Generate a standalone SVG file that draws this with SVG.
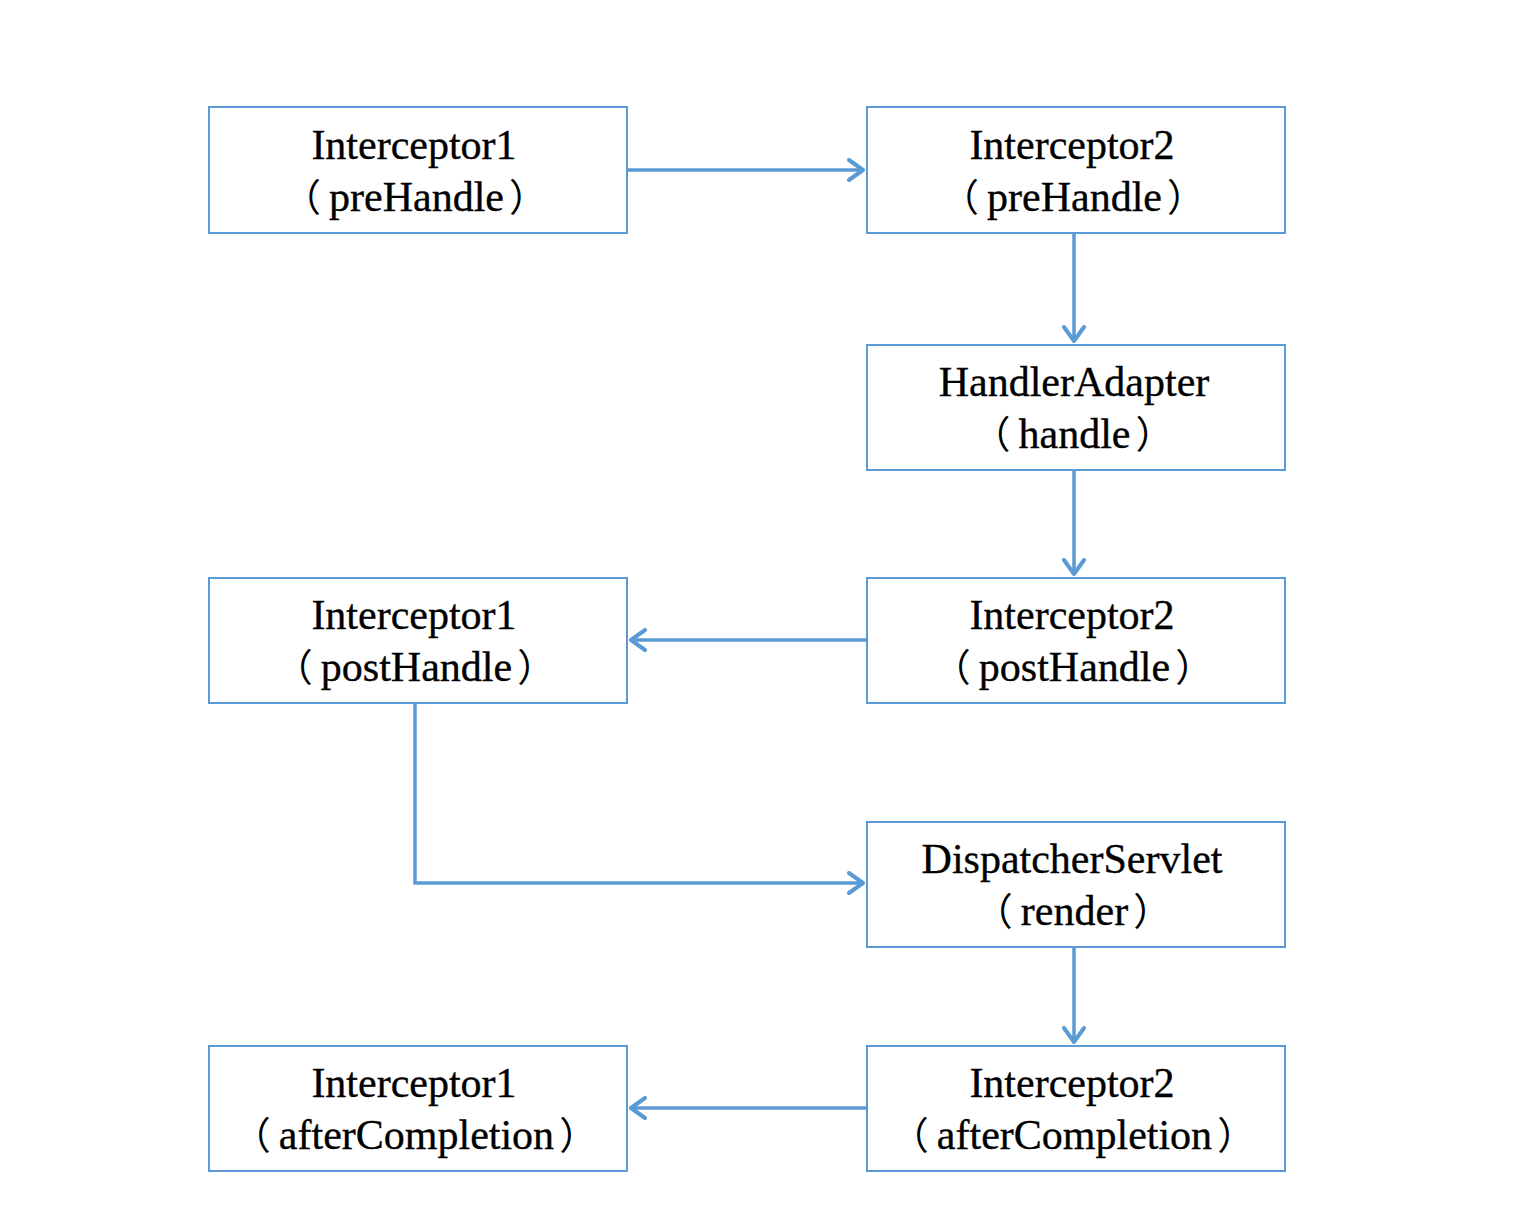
<svg xmlns="http://www.w3.org/2000/svg" width="1534" height="1206" viewBox="0 0 1534 1206">
<style>
.box{fill:#fff;stroke:#5B9BD5;stroke-width:2}
.t{font-family:"Liberation Serif","Noto Sans CJK SC",serif;font-size:42px;fill:#000;stroke:#000;stroke-width:0.35;text-anchor:middle}
.p{font-family:"Noto Sans CJK SC",sans-serif;font-size:38px;stroke-width:0}
.c{fill:none;stroke:#5B9BD5;stroke-width:3.5}
</style>
<defs>
<marker id="ah" viewBox="0 0 24 24" refX="21" refY="12" markerWidth="24" markerHeight="24" markerUnits="userSpaceOnUse" orient="auto">
<path d="M7,2 L21,12 L7,22" fill="none" stroke="#5B9BD5" stroke-width="4" stroke-linecap="round" stroke-linejoin="round"/>
</marker>
</defs>
<rect width="1534" height="1206" fill="#fff"/>
<g id="connectors">
<line class="c" x1="628" y1="170" x2="863" y2="170" marker-end="url(#ah)"/>
<line class="c" x1="1074" y1="234" x2="1074" y2="341" marker-end="url(#ah)"/>
<line class="c" x1="1074" y1="471" x2="1074" y2="574" marker-end="url(#ah)"/>
<line class="c" x1="866" y1="640" x2="631" y2="640" marker-end="url(#ah)"/>
<polyline class="c" points="415,704 415,883 863,883" marker-end="url(#ah)"/>
<line class="c" x1="1074" y1="948" x2="1074" y2="1042" marker-end="url(#ah)"/>
<line class="c" x1="866" y1="1108" x2="631" y2="1108" marker-end="url(#ah)"/>
</g>
<g id="n1"><rect class="box" x="209" y="107" width="418" height="126"/><text class="t" x="414" y="159">Interceptor1</text><text class="t" x="415" y="211"><tspan class="p">（</tspan><tspan dx="8">preHandle</tspan><tspan class="p" dx="5">）</tspan></text></g>
<g id="n2"><rect class="box" x="867" y="107" width="418" height="126"/><text class="t" x="1072" y="159">Interceptor2</text><text class="t" x="1073" y="211"><tspan class="p">（</tspan><tspan dx="8">preHandle</tspan><tspan class="p" dx="5">）</tspan></text></g>
<g id="n3"><rect class="box" x="867" y="345" width="418" height="125"/><text class="t" x="1074" y="396">HandlerAdapter</text><text class="t" x="1073" y="448"><tspan class="p">（</tspan><tspan dx="8">handle</tspan><tspan class="p" dx="5">）</tspan></text></g>
<g id="n4"><rect class="box" x="867" y="578" width="418" height="125"/><text class="t" x="1072" y="629">Interceptor2</text><text class="t" x="1073" y="681"><tspan class="p">（</tspan><tspan dx="8">postHandle</tspan><tspan class="p" dx="5">）</tspan></text></g>
<g id="n5"><rect class="box" x="209" y="578" width="418" height="125"/><text class="t" x="414" y="629">Interceptor1</text><text class="t" x="415" y="681"><tspan class="p">（</tspan><tspan dx="8">postHandle</tspan><tspan class="p" dx="5">）</tspan></text></g>
<g id="n6"><rect class="box" x="867" y="822" width="418" height="125"/><text class="t" x="1072" y="873">DispatcherServlet</text><text class="t" x="1073" y="925"><tspan class="p">（</tspan><tspan dx="8">render</tspan><tspan class="p" dx="5">）</tspan></text></g>
<g id="n7"><rect class="box" x="867" y="1046" width="418" height="125"/><text class="t" x="1072" y="1097">Interceptor2</text><text class="t" x="1073" y="1149"><tspan class="p">（</tspan><tspan dx="8">afterCompletion</tspan><tspan class="p" dx="5">）</tspan></text></g>
<g id="n8"><rect class="box" x="209" y="1046" width="418" height="125"/><text class="t" x="414" y="1097">Interceptor1</text><text class="t" x="415" y="1149"><tspan class="p">（</tspan><tspan dx="8">afterCompletion</tspan><tspan class="p" dx="5">）</tspan></text></g>
</svg>
